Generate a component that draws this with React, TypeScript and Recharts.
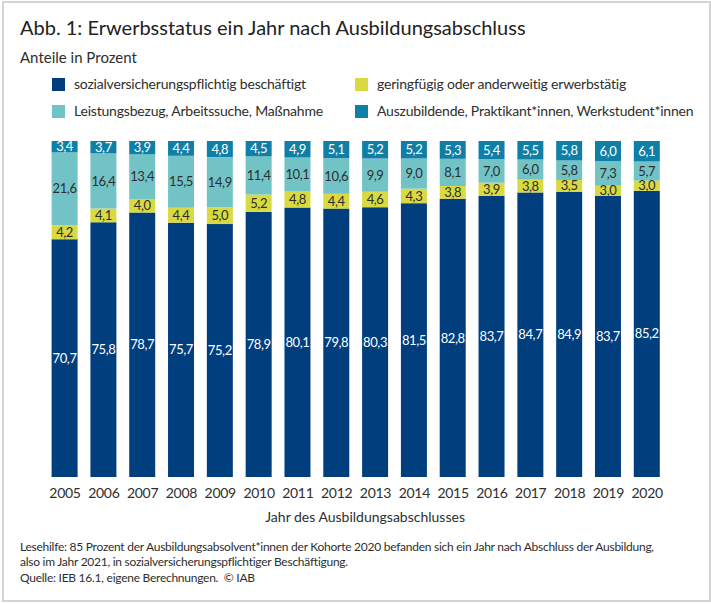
import { BarChart, Bar, XAxis, YAxis, Legend, LabelList } from "recharts";

const years = ["2005", "2006", "2007", "2008", "2009", "2010", "2011", "2012", "2013", "2014", "2015", "2016", "2017", "2018", "2019", "2020"];
const employed = [70.7, 75.8, 78.7, 75.7, 75.2, 78.9, 80.1, 79.8, 80.3, 81.5, 82.8, 83.7, 84.7, 84.9, 83.7, 85.2];
const marginal = [4.2, 4.1, 4.0, 4.4, 5.0, 5.2, 4.8, 4.4, 4.6, 4.3, 3.8, 3.9, 3.8, 3.5, 3.0, 3.0];
const benefits = [21.6, 16.4, 13.4, 15.5, 14.9, 11.4, 10.1, 10.6, 9.9, 9.0, 8.1, 7.0, 6.0, 5.8, 7.3, 5.7];
const trainees = [3.4, 3.7, 3.9, 4.4, 4.8, 4.5, 4.9, 5.1, 5.2, 5.2, 5.3, 5.4, 5.5, 5.8, 6.0, 6.1];

const data = years.map((year, i) => ({
  year,
  employed: employed[i],
  marginal: marginal[i],
  benefits: benefits[i],
  trainees: trainees[i],
}));

const FONT = "Lato, sans-serif";
const TEXT = "#2e2e2e";

const series = [
  { key: "employed", name: "sozialversicherungspflichtig beschäftigt", color: "#003e7e", label: "#ffffff" },
  { key: "marginal", name: "geringfügig oder anderweitig erwerbstätig", color: "#d9d941", label: TEXT },
  { key: "benefits", name: "Leistungsbezug, Arbeitssuche, Maßnahme", color: "#72c3c6", label: TEXT },
  { key: "trainees", name: "Auszubildende, Praktikant*innen, Werkstudent*innen", color: "#0f7fa8", label: "#ffffff" },
];

const comma = (v: any) => Number(v).toFixed(1).replace(".", ",");

function LegendGrid() {
  return (
    <div style={{ display: "grid", gridTemplateColumns: "303px 340px", rowGap: 13, fontFamily: FONT, fontSize: 14, letterSpacing: -0.2, color: TEXT, lineHeight: "14px" }}>
      {series.map((s) => (
        <div key={s.key} style={{ display: "flex", alignItems: "center", whiteSpace: "nowrap" }}>
          <span style={{ width: 13, height: 13, background: s.color, marginRight: 9, flex: "none" }} />
          {s.name}
        </div>
      ))}
    </div>
  );
}

const note: React.CSSProperties = { position: "absolute", left: 20, fontFamily: FONT, fontSize: 12, letterSpacing: -0.26, color: TEXT, whiteSpace: "pre" };

export default function App() {
  return (
    <div style={{ position: "absolute", left: 0, top: 0, width: 711, height: 604, background: "#fff" }}>
      <div style={{ position: "absolute", left: 2, top: 1, width: 705, height: 597, border: "2px solid #d4d4d4" }} />
      <div style={{ position: "absolute", left: 20, top: 15, fontFamily: FONT, fontSize: 20, color: "#222", whiteSpace: "nowrap" }}>
        Abb. 1: Erwerbsstatus ein Jahr nach Ausbildungsabschluss
      </div>
      <div style={{ position: "absolute", left: 20, top: 48, fontFamily: FONT, fontSize: 15, color: TEXT, whiteSpace: "nowrap" }}>
        Anteile in Prozent
      </div>
      <BarChart
        width={711}
        height={604}
        data={data}
        stackOffset="expand"
        margin={{ top: 100, right: 44.4, bottom: 77, left: 45.6 }}
        style={{ position: "absolute", left: 0, top: 0 }}
      >
        <XAxis
          dataKey="year"
          axisLine={false}
          tickLine={false}
          interval={0}
          tick={{ fontFamily: FONT, fontSize: 14, fill: TEXT, letterSpacing: -0.3 }}
          tickMargin={5}
          label={{ value: "Jahr des Ausbildungsabschlusses", position: "insideBottom", dx: 9, dy: 0, fontFamily: FONT, fontSize: 14, fill: TEXT }}
          height={50}
        />
        <YAxis hide domain={[0, 1]} />
        <Legend
          layout="horizontal"
          align="left"
          verticalAlign="top"
          content={<LegendGrid />}
          wrapperStyle={{ left: 52, top: 77, width: 650 }}
        />
        {series.map((s) => (
          <Bar key={s.key} dataKey={s.key} name={s.name} stackId="a" fill={s.color} barSize={26} isAnimationActive={false}>
            <LabelList dataKey={s.key} position="center" formatter={comma} fill={s.label} style={{ fontFamily: FONT, fontSize: 13, letterSpacing: -0.4 }} />
          </Bar>
        ))}
      </BarChart>
      <div style={{ ...note, top: 539 }}>
        Lesehilfe: 85 Prozent der Ausbildungsabsolvent*innen der Kohorte 2020 befanden sich ein Jahr nach Abschluss der Ausbildung,
      </div>
      <div style={{ ...note, top: 554 }}>also im Jahr 2021, in sozialversicherungspflichtiger Beschäftigung.</div>
      <div style={{ ...note, top: 570 }}>Quelle: IEB 16.1, eigene Berechnungen.  © IAB</div>
    </div>
  );
}
